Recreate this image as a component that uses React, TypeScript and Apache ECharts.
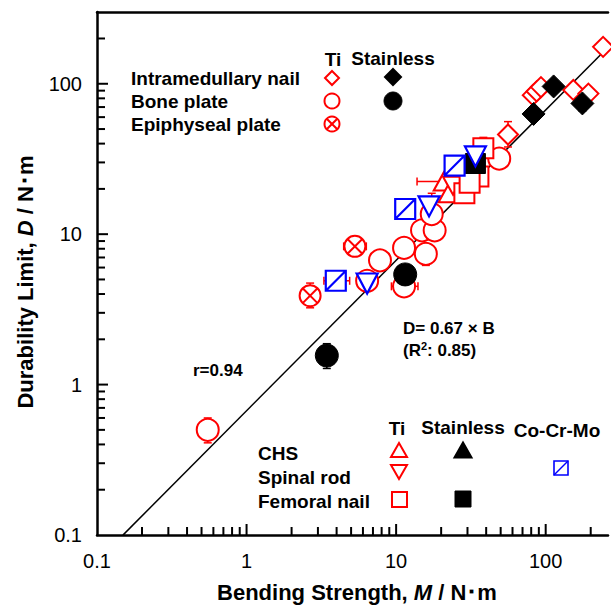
import React, { useEffect, useRef } from 'react';
import * as echarts from 'echarts';

const FONT = "Arial, 'Liberation Sans', sans-serif";
const X_MIN = 0.1, X_MAX = 261, Y_MIN = 0.1, Y_MAX = 300;

// [Bending strength M (N·m), Durability limit D (N·m)]
const tiNail = [[242, 176], [82, 84], [87, 89], [93, 95], [153, 91], [193, 86], [56, 46]];
const ssNail = [[113, 96], [83, 63], [176, 74]];
const tiPlate = [[0.55, 0.5], [6.4, 4.9], [7.8, 6.7], [11.3, 8.1], [15.8, 7.4], [14.9, 10.6], [18.1, 10.6], [17.3, 13.6], [26.1, 20.2], [48.9, 31.8], [11.3, 4.5]];
const ssPlate = [[11.5, 5.4], [3.44, 1.56]];
const tiEpiphyseal = [[5.3, 8.3], [2.66, 3.9]];
const tiCHS = [[20.8, 22.4], [22.4, 18.7]];
const tiSpinal = [[24, 21]];
const tiFemoral = [[38.3, 37.2], [35.5, 24.2], [28.6, 18.7], [31, 22]];
const ssFemoral = [[33.9, 29.5]];
const ccmSquare = [[3.95, 4.9], [11.5, 14.7], [24.6, 28.6]];
const ccmSpinal = [[6.4, 4.7], [16.6, 15.3], [33.9, 32.9]];

// error bars: [x, y, low, high, direction (0 = vertical, 1 = horizontal)]
const redErrors = [
  [0.55, 0.5, 0.41, 0.6, 0],
  [15.8, 7.4, 6.2, 7.4, 0],
  [11.3, 4.5, 9.3, 14, 1],
  [5.3, 8.3, 4.46, 6.32, 1],
  [2.66, 3.9, 3.24, 4.73, 0],
  [56, 46, 38, 56, 0],
  [38.3, 37.2, 37.2, 44, 0],
  [20.8, 22.4, 13.8, 20.8, 1],
  [17.3, 13.6, 13.6, 18.7, 0],
  [3.95, 4.9, 3.29, 4.89, 1],
];
const blackErrors = [
  [3.44, 1.56, 1.28, 1.87, 0],
  [176, 74, 66, 74, 0],
];

// regression D = 0.67 × B
const SLOPE = 0.67;
const FIT_X = [0.149, 242];

const X_MAJOR = [1, 10, 100];
const X_MINOR = [0.2, 0.3, 0.4, 0.5, 0.6, 0.7, 0.8, 0.9, 2, 3, 4, 5, 6, 7, 8, 9, 20, 30, 40, 50, 60, 70, 80, 90, 200];
const Y_MAJOR = [1, 10, 100];
const Y_MINOR = [0.2, 0.3, 0.4, 0.5, 0.6, 0.7, 0.8, 0.9, 2, 3, 4, 5, 6, 7, 8, 9, 20, 30, 40, 50, 60, 70, 80, 90, 200];

const RED = '#ff0000';
const BLUE = '#0000ff';
const BLACK = '#000000';

const SYM_DIAMOND = 'path://M10,0 L20,10 L10,20 L0,10 Z';
const SYM_OX = 'path://M20,10 A10,10 0 1 1 0,10 A10,10 0 1 1 20,10 Z M2.93,2.93 L17.07,17.07 M17.07,2.93 L2.93,17.07';
const SYM_UP = 'path://M10,0 L20,18 L0,18 Z';
const SYM_DOWN = 'path://M0,0 L20,0 L10,18 Z';
const SYM_SQ = 'path://M0,0 L20,0 L20,20 L0,20 Z';
const SYM_SQD = 'path://M0,0 L20,0 L20,20 L0,20 Z M0,20 L20,0';

function scatter(data: number[][], symbol: string, size: number | number[], fill: string, stroke: string, z: number, bw = 2) {
  return {
    type: 'scatter',
    data,
    symbol,
    symbolSize: size,
    itemStyle: { color: fill, borderColor: stroke, borderWidth: bw, opacity: 1 },
    z,
    silent: true,
  };
}

function errRender(color: string) {
  return (params: any, api: any) => {
    const x = api.value(0), y = api.value(1), lo = api.value(2), hi = api.value(3), dir = api.value(4);
    const cap = 4;
    const st = { stroke: color, lineWidth: 1.5 };
    if (dir === 0) {
      const p1 = api.coord([x, lo]);
      const p2 = api.coord([x, hi]);
      return {
        type: 'group',
        children: [
          { type: 'line', shape: { x1: p1[0], y1: p1[1], x2: p2[0], y2: p2[1] }, style: st },
          { type: 'line', shape: { x1: p1[0] - cap, y1: p1[1], x2: p1[0] + cap, y2: p1[1] }, style: st },
          { type: 'line', shape: { x1: p2[0] - cap, y1: p2[1], x2: p2[0] + cap, y2: p2[1] }, style: st },
        ],
      };
    }
    const p1 = api.coord([lo, y]);
    const p2 = api.coord([hi, y]);
    return {
      type: 'group',
      children: [
        { type: 'line', shape: { x1: p1[0], y1: p1[1], x2: p2[0], y2: p2[1] }, style: st },
        { type: 'line', shape: { x1: p1[0], y1: p1[1] - cap, x2: p1[0], y2: p1[1] + cap }, style: st },
        { type: 'line', shape: { x1: p2[0], y1: p2[1] - cap, x2: p2[0], y2: p2[1] + cap }, style: st },
      ],
    };
  };
}

function tickRender(params: any, api: any) {
  const p = api.coord([api.value(0), api.value(1)]);
  const kind = api.value(2);
  const st = { stroke: BLACK, lineWidth: 2 };
  if (kind === 0 || kind === 1) {
    const len = kind === 0 ? 11 : 8;
    return { type: 'line', shape: { x1: p[0], y1: p[1], x2: p[0], y2: p[1] - len }, style: st };
  }
  const len = kind === 2 ? 11 : 8;
  return { type: 'line', shape: { x1: p[0], y1: p[1], x2: p[0] + len, y2: p[1] }, style: st };
}

function labelFmt(v: number) {
  const l = Math.log10(v);
  const r = Math.round(l);
  if (Math.abs(l - r) > 1e-6) return '';
  return r === -1 ? '0.1' : String(Math.pow(10, r));
}

function txt(text: string, x: number, y: number, size: number, align = 'left', weight = 'bold', extra: any = {}) {
  return {
    type: 'text',
    x,
    y,
    z: 100,
    style: {
      text,
      fill: BLACK,
      fontSize: size,
      fontWeight: weight,
      fontFamily: FONT,
      align,
      verticalAlign: 'middle',
      textAlign: align,
      textVerticalAlign: 'middle',
      ...extra,
    },
  };
}

function diamond(cx: number, cy: number, h: number, fill: string, stroke: string) {
  return { type: 'polygon', z: 100, shape: { points: [[cx, cy - h], [cx + h, cy], [cx, cy + h], [cx - h, cy]] }, style: { fill, stroke, lineWidth: 2 } };
}
function tri(cx: number, cy: number, w: number, h: number, up: boolean, fill: string, stroke: string) {
  const pts = up
    ? [[cx, cy - h / 2], [cx + w / 2, cy + h / 2], [cx - w / 2, cy + h / 2]]
    : [[cx - w / 2, cy - h / 2], [cx + w / 2, cy - h / 2], [cx, cy + h / 2]];
  return { type: 'polygon', z: 100, shape: { points: pts }, style: { fill, stroke, lineWidth: 2 } };
}

export default function App() {
  const ref = useRef<HTMLDivElement>(null);
  useEffect(() => {
    const chart = echarts.init(ref.current!, null, { renderer: 'svg' });

    const tickData = [
      ...X_MAJOR.map((v) => [v, Y_MIN, 0]),
      ...X_MINOR.map((v) => [v, Y_MIN, 1]),
      ...Y_MAJOR.map((v) => [X_MIN, v, 2]),
      ...Y_MINOR.map((v) => [X_MIN, v, 3]),
    ];

    const ox = (cx: number, cy: number, r: number) => {
      const d = r * 0.7071;
      return [
        { type: 'circle', z: 100, shape: { cx, cy, r }, style: { fill: '#fff', stroke: RED, lineWidth: 2 } },
        { type: 'line', z: 101, shape: { x1: cx - d, y1: cy - d, x2: cx + d, y2: cy + d }, style: { stroke: RED, lineWidth: 2 } },
        { type: 'line', z: 101, shape: { x1: cx + d, y1: cy - d, x2: cx - d, y2: cy + d }, style: { stroke: RED, lineWidth: 2 } },
      ];
    };

    const unit = '\uFF65';

    const option: any = {
      animation: false,
      backgroundColor: '#fff',
      grid: { left: 97, right: 0, top: 12, bottom: 73, containLabel: false },
      xAxis: [
        {
          type: 'log',
          logBase: 10,
          min: X_MIN,
          max: X_MAX,
          position: 'bottom',
          axisLine: { show: true, lineStyle: { color: BLACK, width: 2.5 } },
          axisTick: { show: false },
          splitLine: { show: false },
          axisLabel: { formatter: labelFmt, fontSize: 20, color: BLACK, fontFamily: FONT, margin: 16 },
        },
        {
          type: 'log',
          logBase: 10,
          min: X_MIN,
          max: X_MAX,
          position: 'top',
          axisLine: { show: true, onZero: false, lineStyle: { color: BLACK, width: 2.5 } },
          axisTick: { show: false },
          splitLine: { show: false },
          axisLabel: { show: false },
        },
      ],
      yAxis: {
        type: 'log',
        logBase: 10,
        min: Y_MIN,
        max: Y_MAX,
        axisLine: { show: true, lineStyle: { color: BLACK, width: 2.5 } },
        axisTick: { show: false },
        splitLine: { show: false },
        axisLabel: { formatter: labelFmt, fontSize: 20, color: BLACK, fontFamily: FONT, margin: 15 },
      },
      series: [
        {
          type: 'line',
          data: FIT_X.map((x) => [x, SLOPE * x]),
          symbol: 'none',
          lineStyle: { color: BLACK, width: 1.5 },
          z: 1,
          silent: true,
        },
        { type: 'custom', renderItem: errRender(RED), data: redErrors, encode: { x: 0, y: 1 }, z: 2, silent: true },
        { type: 'custom', renderItem: errRender(BLACK), data: blackErrors, encode: { x: 0, y: 1 }, z: 2, silent: true },
        scatter(tiNail, SYM_DIAMOND, 20, '#fff', RED, 3),
        scatter(tiPlate, 'circle', 22, '#fff', RED, 3),
        scatter(tiEpiphyseal, SYM_OX, 21, '#fff', RED, 3),
        scatter(tiCHS, SYM_UP, [20, 18], '#fff', RED, 3),
        scatter(tiSpinal, SYM_DOWN, [20, 18], '#fff', RED, 3),
        scatter(tiFemoral, SYM_SQ, 20, '#fff', RED, 3),
        scatter(ssNail, SYM_DIAMOND, 23, BLACK, BLACK, 4, 1),
        scatter(ssPlate, 'circle', 23, BLACK, BLACK, 4, 1),
        scatter(ssFemoral, SYM_SQ, 20, BLACK, BLACK, 4, 1),
        scatter(ccmSquare, SYM_SQD, 20, '#fff', BLUE, 5, 2.2),
        scatter(ccmSpinal, SYM_DOWN, [21, 20], '#fff', BLUE, 5, 2.2),
        { type: 'custom', renderItem: tickRender, data: tickData, encode: { x: 0, y: 1 }, z: 10, silent: true, clip: false },
      ],
      graphic: [
        // axis titles
        {
          type: 'text',
          x: 357,
          y: 592,
          z: 100,
          style: {
            text: '{b|Bending Strength, }{i|M}{b| / N' + unit + 'm}',
            align: 'center',
            verticalAlign: 'middle',
            textAlign: 'center',
            textVerticalAlign: 'middle',
            rich: {
              b: { fontSize: 22, fontWeight: 'bold', fontFamily: FONT, fill: BLACK, color: BLACK },
              i: { fontSize: 22, fontWeight: 'bold', fontStyle: 'italic', fontFamily: FONT, fill: BLACK, color: BLACK },
            },
          },
        },
        {
          type: 'text',
          x: 25,
          y: 282,
          rotation: Math.PI / 2,
          z: 100,
          style: {
            text: '{b|Durability Limit, }{i|D}{b| / N' + unit + 'm}',
            align: 'center',
            verticalAlign: 'middle',
            textAlign: 'center',
            textVerticalAlign: 'middle',
            rich: {
              b: { fontSize: 22, fontWeight: 'bold', fontFamily: FONT, fill: BLACK, color: BLACK },
              i: { fontSize: 22, fontWeight: 'bold', fontStyle: 'italic', fontFamily: FONT, fill: BLACK, color: BLACK },
            },
          },
        },
        // annotations
        txt('D= 0.67 × B', 403, 328, 17),
        {
          type: 'text',
          x: 403,
          y: 350,
          z: 100,
          style: {
            text: '{b|(R}{s|2}{b|: 0.85)}',
            align: 'left',
            verticalAlign: 'middle',
            textAlign: 'left',
            textVerticalAlign: 'middle',
            rich: {
              b: { fontSize: 17, fontWeight: 'bold', fontFamily: FONT, fill: BLACK, color: BLACK },
              s: { fontSize: 11, fontWeight: 'bold', fontFamily: FONT, fill: BLACK, color: BLACK, verticalAlign: 'top', padding: [0, 0, 8, 0] },
            },
          },
        },
        txt('r=0.94', 193, 370, 17),
        // top legend
        txt('Ti', 333, 59, 19, 'center'),
        txt('Stainless', 393, 58, 19, 'center'),
        txt('Intramedullary nail', 131, 78, 19),
        txt('Bone plate', 131, 101, 19),
        txt('Epiphyseal plate', 131, 124, 19),
        diamond(332, 78, 7, '#fff', RED),
        { type: 'circle', z: 100, shape: { cx: 332, cy: 101, r: 7.5 }, style: { fill: '#fff', stroke: RED, lineWidth: 2 } },
        ...ox(332, 124, 7.5),
        diamond(393, 77, 8, BLACK, BLACK),
        { type: 'circle', z: 100, shape: { cx: 393, cy: 101, r: 9 }, style: { fill: BLACK, stroke: BLACK, lineWidth: 1 } },
        // bottom legend
        txt('Ti', 397, 428, 19, 'center'),
        txt('Stainless', 463, 427, 19, 'center'),
        txt('Co-Cr-Mo', 557, 430, 19, 'center'),
        txt('CHS', 258, 453, 19),
        txt('Spinal rod', 258, 477, 19),
        txt('Femoral nail', 258, 501, 19),
        tri(399, 450, 16, 14, true, '#fff', RED),
        tri(399, 472, 16, 14, false, '#fff', RED),
        { type: 'rect', z: 100, shape: { x: 392, y: 492, width: 15, height: 15 }, style: { fill: '#fff', stroke: RED, lineWidth: 2 } },
        tri(463, 450, 17, 15, true, BLACK, BLACK),
        { type: 'rect', z: 100, shape: { x: 455, y: 491, width: 16, height: 16 }, style: { fill: BLACK, stroke: BLACK, lineWidth: 1 } },
        { type: 'rect', z: 100, shape: { x: 554, y: 461, width: 14, height: 14 }, style: { fill: '#fff', stroke: BLUE, lineWidth: 1.6 } },
        { type: 'line', z: 101, shape: { x1: 554, y1: 475, x2: 568, y2: 461 }, style: { stroke: BLUE, lineWidth: 1.4 } },
      ],
    };

    chart.setOption(option);
    return () => chart.dispose();
  }, []);
  return <div ref={ref} style={{ position: 'fixed', left: 0, top: 0, width: 611, height: 608, background: '#fff' }} />;
}
